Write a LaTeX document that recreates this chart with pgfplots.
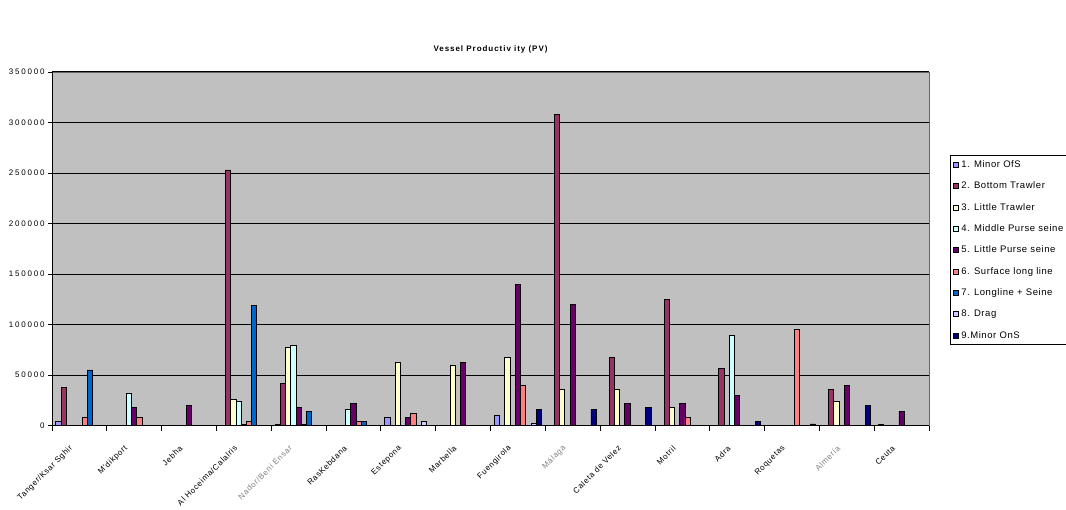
\documentclass[border=0pt]{standalone}
\usepackage{fontspec}
\setmainfont{Liberation Sans}
\newfontfamily\ytfont[LetterSpace=22]{Liberation Sans}
\newfontfamily\xtfont[LetterSpace=8]{Liberation Sans}
\newfontfamily\lgfont[LetterSpace=6]{Liberation Sans}
\newfontfamily\ttlfont[LetterSpace=12]{Liberation Sans}
\usepackage{pgfplots}
\pgfplotsset{compat=1.18}

\definecolor{plotgray}{HTML}{C0C0C0}
\definecolor{s1}{HTML}{9999FF}
\definecolor{s2}{HTML}{993366}
\definecolor{s3}{HTML}{FFFFCC}
\definecolor{s4}{HTML}{CCFFFF}
\definecolor{s5}{HTML}{660066}
\definecolor{s6}{HTML}{FF8080}
\definecolor{s7}{HTML}{0066CC}
\definecolor{s8}{HTML}{CCCCFF}
\definecolor{s9}{HTML}{000080}

\pgfplotsset{
  vbar/.style={draw=black, line width=0.9pt,
    legend image code/.code={\draw[##1, draw=black, line width=0.8pt] (0pt,-2.5pt) rectangle (5pt,2.5pt);}},
}

\begin{document}
\begin{tikzpicture}[x=1pt,y=1pt]
\path[use as bounding box] (-52,-83.5) rectangle (1014,425.5);
\begin{axis}[
  at={(0,0)}, anchor=south west,
  scale only axis, width=877pt, height=353.5pt,
  xmin=0, xmax=16, ymin=0, ymax=350000,
  ybar=0pt, bar width=0.095238,
  axis background/.style={fill=plotgray, draw=gray!80!black},
  axis x line*=bottom, axis y line*=left,
  axis line style={black, line width=1pt},
  tick align=outside,
  major tick length=4pt, minor tick length=5pt,
  tick style={black, line width=0.8pt},
  xtick={0.5,1.5,...,15.5},
  major x tick style={draw=none},
  minor xtick={0,1,...,16},
  xticklabels={Tanger/Ksar Sghir, M'dikport, Jebha, Al Hoceima/Calalris,
    \textcolor{gray}{Nador/Beni Ensar}, RasKebdana, Estepona, Marbella, Fuengirola,
    \textcolor{gray}{Málaga}, Caleta de Velez, Motril, Adra, Roquetas,
    \textcolor{gray}{Almería}, Ceuta},
  xticklabel style={rotate=45, anchor=east, xshift=-14.6pt, yshift=-6.7pt,
    font=\xtfont\fontsize{8}{9}\selectfont},
  ytick={0,50000,...,350000},
  scaled y ticks=false,
  yticklabel style={font=\ytfont\fontsize{8}{9}\selectfont,
    /pgf/number format/fixed, /pgf/number format/1000 sep={}},
  /pgf/number format/assume math mode=true,
  ymajorgrids, major grid style={black, line width=1pt},
  title={Vessel Productiv ity (PV)},
  title style={font=\ttlfont\bfseries\fontsize{8}{9}\selectfont, yshift=9pt},
  legend style={at={(1.024,0.765)}, anchor=north west, draw=black, line width=0.8pt,
    fill=white, font=\lgfont\fontsize{9.5}{10}\selectfont,
    row sep=9pt, inner xsep=3pt, inner ysep=3pt},
  legend cell align=left,
]
% 1. Minor OfS
\addplot[vbar, fill=s1, bar shift=-0.380952] coordinates {
  (0.5,4000) (4.5,1000) (6.5,8000) (8.5,10000) (15.5,1500)};
% 2. Bottom Trawler
\addplot[vbar, fill=s2, bar shift=-0.285714] coordinates {
  (0.5,38000) (3.5,253000) (4.5,42000) (9.5,308000) (10.5,67000)
  (11.5,125000) (12.5,56000) (14.5,36000)};
% 3. Little Trawler
\addplot[vbar, fill=s3, bar shift=-0.190476] coordinates {
  (3.5,26000) (4.5,77000) (6.5,62000) (7.5,59000) (8.5,67000)
  (9.5,36000) (10.5,36000) (11.5,18000) (14.5,24000)};
% 4. Middle Purse seine
\addplot[vbar, fill=s4, bar shift=-0.095238] coordinates {
  (1.5,32000) (3.5,24000) (4.5,79000) (5.5,16000) (12.5,89000)};
% 5. Little Purse seine
\addplot[vbar, fill=s5, bar shift=0] coordinates {
  (1.5,18000) (2.5,20000) (3.5,1000) (4.5,18000) (5.5,22000) (6.5,8000)
  (7.5,62000) (8.5,140000) (9.5,120000) (10.5,22000) (11.5,22000)
  (12.5,30000) (14.5,40000) (15.5,14000)};
% 6. Surface long line
\addplot[vbar, fill=s6, bar shift=0.095238] coordinates {
  (0.5,8000) (1.5,8000) (3.5,4000) (4.5,800) (5.5,4000) (6.5,12000)
  (8.5,40000) (11.5,8000) (13.5,95000)};
% 7. Longline + Seine
\addplot[vbar, fill=s7, bar shift=0.190476] coordinates {
  (0.5,55000) (3.5,119000) (4.5,14000) (5.5,4000)};
% 8. Drag
\addplot[vbar, fill=s8, bar shift=0.285714] coordinates {
  (6.5,4000) (8.5,2000)};
% 9. Minor OnS
\addplot[vbar, fill=s9, bar shift=0.380952] coordinates {
  (8.5,16000) (9.5,16000) (10.5,18000) (12.5,4000) (13.5,1500) (14.5,20000)};
\legend{1. Minor OfS, 2. Bottom Trawler, 3. Little Trawler, 4. Middle Purse seine,
  5. Little Purse seine, 6. Surface long line, 7. Longline + Seine, 8. Drag, 9.Minor OnS}
\end{axis}
\end{tikzpicture}
\end{document}
